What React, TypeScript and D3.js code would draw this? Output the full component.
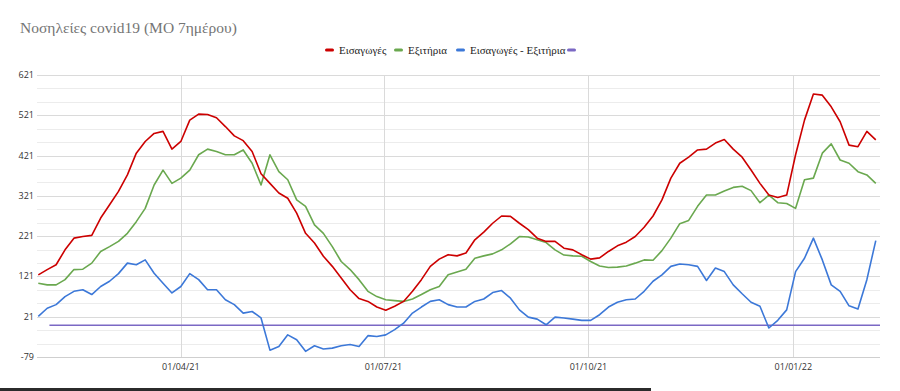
import React, { useEffect, useRef } from 'react';
import * as d3 from 'd3';

// samples every 4 days from 27/01/21
const startDate = new Date(2021, 0, 27);
const endDate = new Date(2022, 1, 8);
const dates = d3.timeDay.range(startDate, new Date(2022, 1, 9), 4);

const admissions = [
  125, 138, 150, 187, 216, 220, 223, 266, 299, 332, 373, 427, 456, 476, 481, 437,
  456, 509, 524, 523, 515, 493, 470, 458, 431, 376, 352, 328, 315, 278, 228, 204,
  171, 146, 117, 88, 66, 59, 45, 37, 47, 59, 84, 113, 146, 164, 175, 172,
  179, 212, 231, 253, 271, 270, 253, 237, 216, 208, 208, 191, 187, 175, 164, 167,
  183, 197, 206, 220, 243, 271, 311, 365, 402, 417, 435, 437, 452, 461, 437, 417,
  385, 352, 323, 317, 323, 423, 509, 574, 571, 542, 505, 447, 443, 481, 460,
];

const discharges = [
  104, 100, 100, 113, 138, 139, 154, 183, 195, 208, 228, 257, 290, 348, 385, 352,
  365, 385, 423, 437, 431, 423, 423, 435, 402, 348, 423, 381, 361, 311, 295, 249,
  228, 195, 158, 138, 113, 84, 71, 63, 61, 59, 65, 76, 88, 96, 125, 132,
  139, 166, 172, 177, 187, 202, 220, 219, 212, 205, 187, 174, 172, 171, 158, 147,
  143, 144, 147, 154, 162, 161, 185, 216, 252, 260, 295, 323, 323, 333, 342, 345,
  334, 304, 323, 304, 302, 290, 361, 365, 427, 450, 410, 402, 381, 373, 352,
];

const difference = [
  22, 42, 51, 71, 84, 88, 76, 96, 109, 128, 154, 150, 162, 129, 104, 80,
  96, 128, 113, 88, 88, 63, 51, 30, 34, 18, -62, -53, -24, -36, -65, -51,
  -59, -57, -51, -48, -53, -26, -28, -24, -11, 5, 30, 45, 59, 63, 51, 45,
  45, 59, 65, 81, 86, 67, 38, 20, 15, 1, 20, 18, 15, 12, 12, 26,
  45, 57, 63, 65, 84, 109, 125, 146, 152, 150, 146, 111, 142, 133, 100, 78,
  57, 47, -7, 12, 38, 133, 166, 216, 162, 100, 84, 48, 40, 113, 210,
];

const zeroLine = { from: new Date(2021, 1, 1), to: endDate, value: 0 };

const yTicks = [-79, 21, 121, 221, 321, 421, 521, 621];
const xTicks = [new Date(2021, 3, 1), new Date(2021, 6, 1), new Date(2021, 9, 1), new Date(2022, 0, 1)];

const series = [
  { name: 'Εισαγωγές', color: '#cc0000', values: admissions },
  { name: 'Εξιτήρια', color: '#6aa84f', values: discharges },
  { name: 'Εισαγωγές - Εξιτήρια', color: '#3c78d8', values: difference },
];
const purple = '#7b68c4';

const App = () => {
  const ref = useRef<SVGSVGElement>(null);

  useEffect(() => {
    const svg = d3.select(ref.current);
    svg.selectAll('*').remove();

    const width = 900;
    const height = 391;
    const plot = { left: 37, right: 880, top: 75, bottom: 357 };

    const x = d3.scaleTime().domain([startDate, endDate]).range([38.3, 878]);
    const y = d3.scaleLinear().domain([-79, 621]).range([plot.bottom, plot.top]);

    svg.append('rect').attr('width', width).attr('height', height).attr('fill', 'white');

    svg
      .append('text')
      .attr('x', 20)
      .attr('y', 33)
      .attr('font-family', '"Liberation Serif", serif')
      .attr('font-size', 15.5)
      .attr('fill', '#757575')
      .text('Νοσηλείες covid19 (ΜΟ 7ημέρου)');

    // minor gridlines
    const minor = d3.range(-79, 621, 100 / 3).filter((v) => !yTicks.some((t) => Math.abs(t - v) < 1));
    svg
      .append('g')
      .selectAll('line')
      .data(minor)
      .join('line')
      .attr('x1', plot.left)
      .attr('x2', plot.right)
      .attr('y1', (d) => Math.round(y(d)) + 0.5)
      .attr('y2', (d) => Math.round(y(d)) + 0.5)
      .attr('stroke', '#ececec');

    svg
      .append('g')
      .selectAll('line')
      .data(yTicks)
      .join('line')
      .attr('x1', plot.left)
      .attr('x2', plot.right)
      .attr('y1', (d) => Math.round(y(d)) + 0.5)
      .attr('y2', (d) => Math.round(y(d)) + 0.5)
      .attr('stroke', (d) => (d === -79 ? '#cfcfcf' : '#dadada'));

    svg
      .append('g')
      .selectAll('line')
      .data(xTicks)
      .join('line')
      .attr('x1', (d) => Math.round(x(d)) + 0.5)
      .attr('x2', (d) => Math.round(x(d)) + 0.5)
      .attr('y1', plot.top)
      .attr('y2', plot.bottom)
      .attr('stroke', '#dadada');

    svg
      .append('g')
      .selectAll('text')
      .data(yTicks)
      .join('text')
      .attr('x', 34)
      .attr('y', (d) => y(d) + 3)
      .attr('text-anchor', 'end')
      .attr('font-family', '"Open Sans", sans-serif')
      .attr('font-size', 9)
      .attr('fill', '#333')
      .text((d) => d);

    const fmt = d3.timeFormat('%d/%m/%y');
    svg
      .append('g')
      .selectAll('text')
      .data(xTicks)
      .join('text')
      .attr('x', (d) => x(d))
      .attr('y', 370)
      .attr('text-anchor', 'middle')
      .attr('font-family', '"Open Sans", sans-serif')
      .attr('font-size', 9)
      .attr('fill', '#333')
      .text((d) => fmt(d));

    // zero line
    svg
      .append('line')
      .attr('x1', x(zeroLine.from))
      .attr('x2', x(zeroLine.to) + 2)
      .attr('y1', y(zeroLine.value))
      .attr('y2', y(zeroLine.value))
      .attr('stroke', purple)
      .attr('stroke-width', 1.5);

    const line = d3
      .line<number>()
      .x((_, i) => x(dates[i]))
      .y((d) => y(d));

    series
      .slice()
      .reverse()
      .forEach((s) => {
        svg
          .append('path')
          .attr('d', line(s.values))
          .attr('fill', 'none')
          .attr('stroke', s.color)
          .attr('stroke-width', 1.6)
          .attr('stroke-linejoin', 'round');
      });

    // legend
    const legend = svg.append('g').attr('font-family', '"Liberation Serif", serif').attr('font-size', 11);
    const items = [
      { x: 325, label: series[0].name, color: series[0].color },
      { x: 394, label: series[1].name, color: series[1].color },
      { x: 456, label: series[2].name, color: series[2].color },
      { x: 567, label: '', color: purple },
    ];
    items.forEach((it) => {
      legend
        .append('rect')
        .attr('x', it.x)
        .attr('y', 48.5)
        .attr('width', 9)
        .attr('height', 3)
        .attr('rx', 1.5)
        .attr('fill', it.color);
      legend
        .append('text')
        .attr('x', it.x + 14)
        .attr('y', 54)
        .attr('fill', '#222')
        .text(it.label);
    });

    svg.append('rect').attr('x', 0).attr('y', 388).attr('width', 651).attr('height', 3).attr('fill', '#2b2b2b');
  }, []);

  return (
    <svg
      ref={ref}
      width={900}
      height={391}
      style={{ position: 'absolute', left: 0, top: 0, display: 'block' }}
    />
  );
};

export default App;
